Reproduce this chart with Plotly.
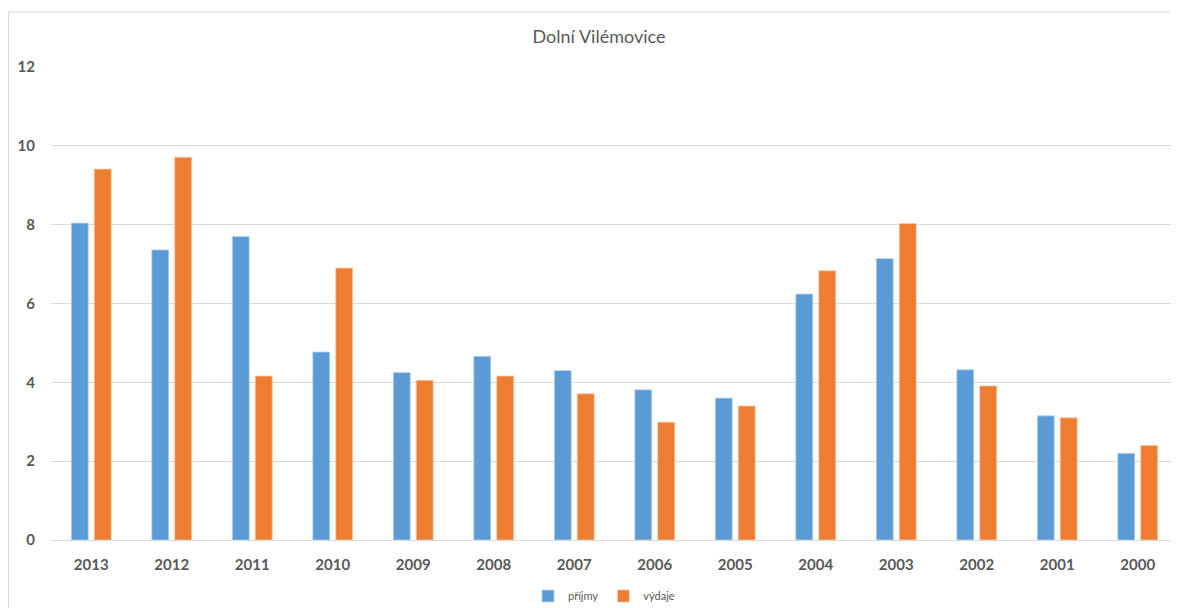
import plotly.graph_objects as go

years = ["2013", "2012", "2011", "2010", "2009", "2008", "2007", "2006", "2005", "2004", "2003", "2002", "2001", "2000"]
prijmy = [8.04, 7.36, 7.70, 4.77, 4.25, 4.66, 4.30, 3.81, 3.60, 6.24, 7.14, 4.32, 3.15, 2.20]
vydaje = [9.41, 9.71, 4.16, 6.90, 4.05, 4.16, 3.71, 2.99, 3.40, 6.83, 8.03, 3.91, 3.10, 2.40]
y_ticks = [0, 2, 4, 6, 8, 10, 12]

# page has an 8px body margin, so the figure is sized to fit the window
W, H = 1171, 600
L, R, T, B = 43, 1, 59, 68
pw, ph = W - L - R, H - T - B

fig = go.Figure()
fig.add_trace(go.Bar(name="příjmy", x=years, y=prijmy, marker=dict(color="#5B9BD5", line=dict(color="#BDD7EE", width=0.8))))
fig.add_trace(go.Bar(name="výdaje", x=years, y=vydaje, marker=dict(color="#ED7D31", line=dict(color="#F8CBAD", width=0.8))))

tick_font = dict(size=15, color="#595959", family="Lato, sans-serif", weight="bold")

fig.update_layout(
    width=W, height=H,
    margin=dict(l=L, r=R, t=T, b=B, autoexpand=False),
    paper_bgcolor="white", plot_bgcolor="white",
    font=dict(family="Lato, 'Open Sans', sans-serif", color="#595959"),
    barmode="group", bargap=0.43, bargroupgap=0.26,
    title=dict(text="Dolní Vilémovice", x=591 / W, xanchor="center", y=1 - 29 / H, yanchor="middle",
               font=dict(size=18, color="#595959")),
    showlegend=True,
    legend=dict(orientation="h", x=(596 - L) / pw, xanchor="center", y=-(588 - (T + ph)) / ph, yanchor="middle",
                font=dict(size=11, color="#595959"), itemwidth=30, traceorder="normal"),
    xaxis=dict(showgrid=False, showline=True, linecolor="#D9D9D9", linewidth=1, ticks="",
               tickfont=tick_font, ticklabelstandoff=11, automargin=False),
    yaxis=dict(range=[0, 12], tickvals=y_ticks, showgrid=True, gridcolor="#D9D9D9", gridwidth=1,
               zeroline=False, showline=False, ticks="",
               tickfont=tick_font, ticklabelstandoff=15, automargin=False),
)

# chart-area frame (right and bottom edges fall outside the visible page)
fig.add_shape(type="rect", xref="paper", yref="paper",
              x0=(0.5 - L) / pw, x1=(W + 10 - L) / pw, y0=-(H + 10 - (T + ph)) / ph, y1=1 + (T - 4) / ph,
              line=dict(color="#D9D9D9", width=1), fillcolor="rgba(0,0,0,0)", layer="below")

fig.write_html("out.html")
